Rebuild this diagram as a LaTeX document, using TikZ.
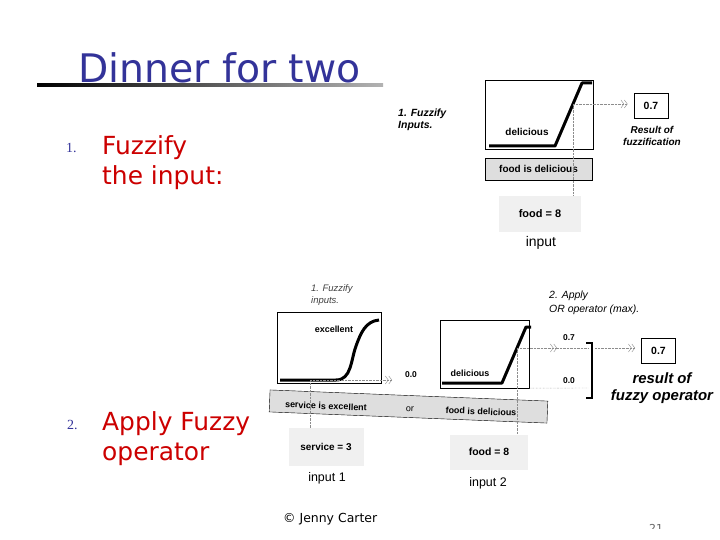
\documentclass[tikz,border=0pt]{standalone}
\usepackage{fontspec}
\setmainfont{DejaVu Sans}
\newfontfamily\arialfont{Liberation Sans}
\newfontfamily\numfont{Liberation Serif}
\usetikzlibrary{arrows.meta}
\definecolor{ttlblue}{RGB}{51,51,153}
\definecolor{itemred}{RGB}{204,0,0}
\colorlet{dotx}{black!45}
\colorlet{rulefill}{black!13}
\colorlet{infill}{black!6}
\tikzset{
    plotbox/.style={draw,thin,inner sep=0pt},
    mfline/.style={line width=3bp,line join=round},
    lbl/.style={font=\arialfont\bfseries\fontsize{9}{10}\selectfont,inner sep=0pt},
    biglbl/.style={font=\arialfont\bfseries\fontsize{10}{11}\selectfont,inner sep=0pt},
    smallval/.style={font=\arialfont\bfseries\fontsize{8.5}{9}\selectfont,inner sep=0pt},
    note/.style={font=\arialfont\bfseries\itshape\fontsize{10}{12}\selectfont,align=left,inner sep=0pt},
    valbox/.style={draw,thick,fill=white,inner sep=0pt,minimum width=34bp,minimum height=25bp,
        font=\arialfont\bfseries\fontsize{10.5}{12}\selectfont},
    rulebox/.style={draw,fill=rulefill,inner sep=0pt},
    inbox/.style={fill=infill,inner sep=0pt,font=\arialfont\bfseries\fontsize{10.5}{12}\selectfont},
    intxt/.style={font=\arialfont\fontsize{12.5}{14}\selectfont,inner sep=0pt},
    guide/.style={dotx,densely dotted,thin},
    chev/.style={-{Straight Barb[length=3bp,width=8bp] Straight Barb[length=3bp,width=8bp]}},
    itemtxt/.style={font=\fontsize{25}{30}\selectfont,text=itemred,inner sep=0pt,anchor=base west},
    numtxt/.style={font=\numfont\fontsize{14}{16}\selectfont,text=ttlblue,inner sep=0pt,anchor=base west}
}
\begin{document}
\begin{tikzpicture}[x=1bp,y=-1bp]
            \useasboundingbox [fill=white] (0,0) rectangle (720,540);
            \shade [left color=black,right color=black!30] (37,83.5) rectangle (383,86.5);
            \node [anchor=base west,inner sep=0pt,text=ttlblue,font=\fontsize{39.5}{44}\selectfont] (ttl) at (78,83) {Dinner for two};
            \node [numtxt] (num1) at (66,153) {1.};
            \node [itemtxt] (fuz1) at (102,155) {Fuzzify};
            \node [itemtxt] (fuz2) at (102,185) {the input:};
            \node [numtxt] (num2) at (67,429) {2.};
            \node [itemtxt] (app1) at (102,430) {Apply Fuzzy};
            \node [itemtxt] (app2) at (102,460) {operator};
            \node [note,anchor=north west,font=\arialfont\bfseries\itshape\fontsize{10.5}{12}\selectfont] (stepa) at (398,109) {1. Fuzzify\\Inputs.};
            \node [plotbox,minimum width=108bp,minimum height=69bp] (fplot) at (539,114.5) {};
            \draw [mfline] (489,146) -- (555,146) -- (582,83) -- (592,83);
            \node [biglbl] (fname) at (527,132) {delicious};
            \node [rulebox,biglbl,minimum width=107bp,minimum height=22bp] (frule) at (538.5,169) {food is delicious};
            \node [inbox,font=\arialfont\bfseries\fontsize{11}{12}\selectfont,minimum width=82bp,minimum height=36bp] (fin) at (540,214) {food = 8};
            \node [intxt,font=\arialfont\fontsize{14}{16}\selectfont] (finlbl) at (541,243) {input};
            \node [valbox] (fres) at (651,105.5) {0.7};
            \node [note,align=center] (fresnote) at (652,136) {Result of\\fuzzification};
            \coordinate (fcut) at (573,104);
            \draw [guide] (fcut) -- (fcut |- fin.north);
            \draw [guide,chev,shorten >=6bp] (fcut) -- (fcut -| fres.west);
            \node [note,font=\arialfont\itshape\fontsize{9.5}{12}\selectfont,text=black!75,anchor=north west] (stepb) at (311,284) {1. Fuzzify\\inputs.};
            \node [note,font=\arialfont\itshape\fontsize{10.5}{14}\selectfont,anchor=north west] (stepc) at (549,291) {2. Apply\\OR operator (max).};
            \node [plotbox,minimum width=104bp,minimum height=71bp] (splot) at (329,347.5) {};
            \draw [mfline] (280,380) -- (336,380) to [out=0,in=250] (356,346) to [out=70,in=185] (379,320);
            \node [lbl] (sname) at (334,329) {excellent};
            \node [plotbox,minimum width=89bp,minimum height=68bp] (dplot) at (484.5,354) {};
            \draw [mfline] (442,383) -- (502,383) -- (526,327) -- (531,327);
            \node [lbl] (dname) at (470,373) {delicious};
            \node [rulebox,rotate=-2.3,minimum width=278bp,minimum height=22bp] (orrule) at (408.5,406.5) {};
            \node [lbl,rotate=-2.3] (orsvc) at (326,406) {service is excellent};
            \node [lbl,rotate=-2.3,font=\arialfont\fontsize{9}{10}\selectfont] (oror) at (410,409) {or};
            \node [lbl,rotate=-2.3] (orfood) at (481,411.5) {food is delicious};
            \node [inbox,font=\arialfont\bfseries\fontsize{10}{12}\selectfont,minimum width=75bp,minimum height=38bp] (sin) at (326,447) {service = 3};
            \node [inbox,minimum width=78bp,minimum height=35bp] (din) at (489,452) {food = 8};
            \node [intxt] (sinlbl) at (327,478) {input 1};
            \node [intxt] (dinlbl) at (488,483) {input 2};
            \coordinate (scut) at (310,380);
            \coordinate (dcut) at (517,348);
            \coordinate (sarr) at (392,380);
            \coordinate (darr) at (557,348);
            \coordinate (brkhi) at (589,348);
            \coordinate (brklo) at (589,388);
            \coordinate (brkout) at (595,348);
            \draw [guide] (scut) -- (scut |- sin.north);
            \draw [guide] (dcut) -- (dcut |- din.north);
            \draw [guide,chev] (scut) -- (sarr);
            \node [smallval] (sval) at (411,375) {0.0};
            \draw [guide,chev] (dcut) -- (darr);
            \draw [guide] (darr) -- (brkhi);
            \draw [guide] (dplot.south east) -- (brklo);
            \node [smallval] (dval) at (569,338) {0.7};
            \node [smallval] (dval0) at (569,381) {0.0};
            \draw [line width=2.6pt] (586,343) -- (592,343) -- (592,398) -- (586,398);
            \node [valbox] (ores) at (658.5,351) {0.7};
            \draw [guide,chev,shorten >=6bp] (brkout) -- (brkout -| ores.west);
            \node [note,align=center,font=\arialfont\bfseries\itshape\fontsize{15}{17}\selectfont] (oresnote) at (662,388) {result of\\fuzzy operator};
            \node [anchor=base west,inner sep=0pt,font=\fontsize{12.5}{14}\selectfont] (copy) at (283,522) {© Jenny Carter};
            \begin{scope}
                \clip (0,0) rectangle (720,528);
                \node [anchor=north,inner sep=0pt,text=black!60,font=\fontsize{11}{13}\selectfont] (pgno) at (656,524) {21};
            \end{scope}
        \end{tikzpicture}
\end{document}
